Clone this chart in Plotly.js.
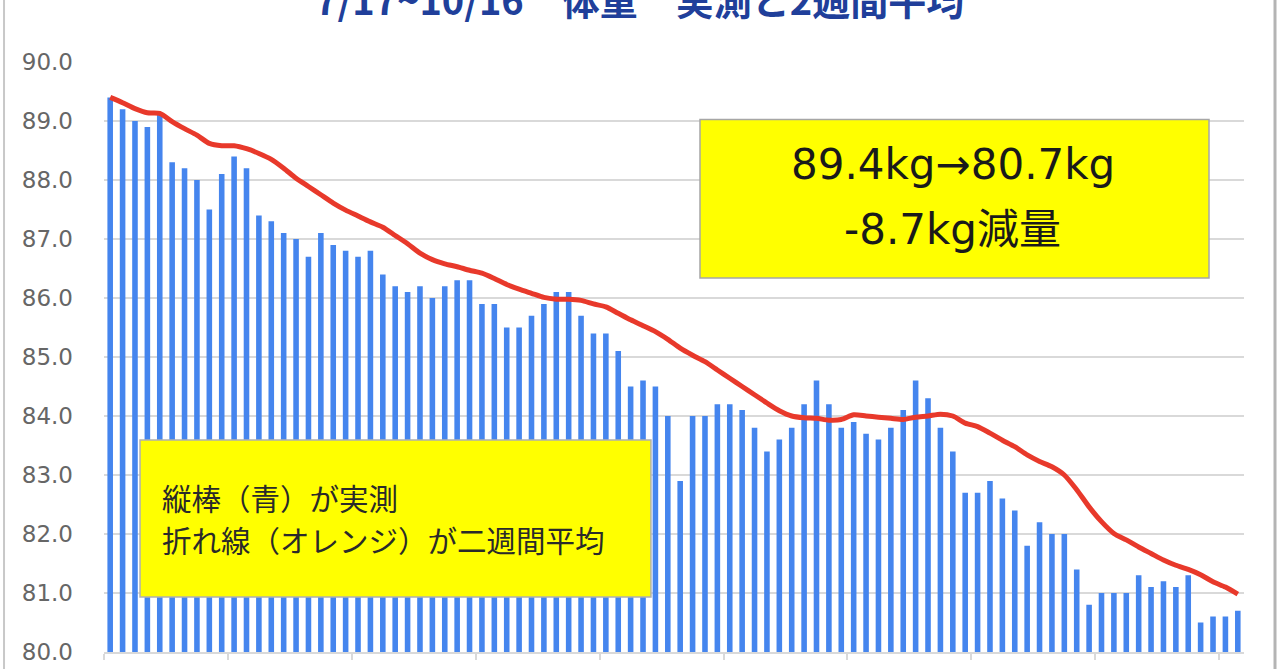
<!DOCTYPE html>
<html>
<head>
<meta charset="utf-8">
<script src="https://cdn.plot.ly/plotly-3.0.1.min.js"></script>
<style>html,body{margin:0;padding:0;background:#fff;}#chart{width:1280px;height:669px;}</style>
</head>
<body>
<div id="chart"></div>
<script>
const titleText = '7/17~10/16　体重　実測と2週間平均';
const days = [
 '7/17','7/18','7/19','7/20','7/21','7/22','7/23','7/24','7/25','7/26','7/27','7/28','7/29','7/30','7/31',
 '8/1','8/2','8/3','8/4','8/5','8/6','8/7','8/8','8/9','8/10','8/11','8/12','8/13','8/14','8/15','8/16',
 '8/17','8/18','8/19','8/20','8/21','8/22','8/23','8/24','8/25','8/26','8/27','8/28','8/29','8/30','8/31',
 '9/1','9/2','9/3','9/4','9/5','9/6','9/7','9/8','9/9','9/10','9/11','9/12','9/13','9/14','9/15',
 '9/16','9/17','9/18','9/19','9/20','9/21','9/22','9/23','9/24','9/25','9/26','9/27','9/28','9/29','9/30',
 '10/1','10/2','10/3','10/4','10/5','10/6','10/7','10/8','10/9','10/10','10/11','10/12','10/13','10/14','10/15','10/16'
];
const measured = [
 89.4,89.2,89.0,88.9,89.1,88.3,88.2,88.0,87.5,88.1,
 88.4,88.2,87.4,87.3,87.1,87.0,86.7,87.1,86.9,86.8,
 86.7,86.8,86.4,86.2,86.1,86.2,86.0,86.2,86.3,86.3,
 85.9,85.9,85.5,85.5,85.7,85.9,86.1,86.1,85.7,85.4,
 85.4,85.1,84.5,84.6,84.5,84.0,82.9,84.0,84.0,84.2,
 84.2,84.1,83.8,83.4,83.6,83.8,84.2,84.6,84.2,83.8,
 83.9,83.7,83.6,83.8,84.1,84.6,84.3,83.8,83.4,82.7,
 82.7,82.9,82.6,82.4,81.8,82.2,82.0,82.0,81.4,80.8,
 81.0,81.0,81.0,81.3,81.1,81.2,81.1,81.3,80.5,80.6,
 80.6,80.7
];
const twoWeekAvg = [
 89.40,89.31,89.21,89.14,89.13,88.99,88.87,88.76,88.62,88.58,
 88.58,88.53,88.45,88.35,88.20,88.03,87.89,87.75,87.61,87.49,
 87.39,87.29,87.20,87.06,86.92,86.76,86.65,86.58,86.53,86.47,
 86.42,86.33,86.23,86.15,86.08,86.01,85.98,85.98,85.96,85.90,
 85.85,85.74,85.63,85.53,85.43,85.30,85.15,85.03,84.92,84.78,
 84.64,84.50,84.36,84.22,84.09,84.00,83.97,83.96,83.93,83.94,
 84.02,84.00,83.98,83.96,83.94,83.98,84.00,84.03,84.00,83.88,
 83.82,83.71,83.59,83.48,83.34,83.23,83.14,83.00,82.75,82.46,
 82.21,82.01,81.90,81.78,81.67,81.56,81.47,81.40,81.31,81.19,
 81.10,80.98
];
const yTicks = [80,81,82,83,84,85,86,87,88,89,90];
const yTickLabels = ['80.0','81.0','82.0','83.0','84.0','85.0','86.0','87.0','88.0','89.0','90.0'];
const summaryLines = ['89.4kg→80.7kg','-8.7kg減量'];
const noteLines = ['縦棒（青）が実測','折れ線（オレンジ）が二週間平均'];

const xTickVals = [];
for (let i = 0; i <= days.length; i += 10) xTickVals.push(i - 0.5);

const traces = [
 {type:'bar', x:days, y:measured, marker:{color:'#4585ee'}, name:'実測', hoverinfo:'x+y'},
 {type:'scatter', mode:'lines', x:days, y:twoWeekAvg, name:'2週間平均',
  line:{color:'#e8392b', width:5, shape:'spline', smoothing:0.7}}
];

const latin = 'DejaVu Sans, Noto Sans CJK JP, sans-serif';
const cjk = 'Noto Sans CJK JP, sans-serif';

const layout = {
 width:1280, height:669,
 margin:{l:104, r:36, t:62, b:17, pad:0},
 paper_bgcolor:'#ffffff', plot_bgcolor:'#ffffff',
 showlegend:false, bargap:0.55,
 xaxis:{type:'category', categoryorder:'array', categoryarray:days, range:[-0.5, days.length-0.5],
  showgrid:false, zeroline:false, showline:true, linecolor:'#d9d9d9', linewidth:2,
  ticks:'outside', ticklen:6, tickwidth:2, tickcolor:'#d9d9d9',
  tickmode:'array', tickvals:xTickVals, ticktext:xTickVals.map(()=>''), showticklabels:false, fixedrange:true},
 yaxis:{range:[80,90], tickmode:'array', tickvals:yTicks, ticktext:yTickLabels,
  showgrid:true, gridcolor:'#d9d9d9', gridwidth:2, zeroline:false, showline:false,
  ticks:'', ticklabelstandoff:30, tickfont:{family:latin, size:23, color:'#666666'}, fixedrange:true},
 shapes:[
  {type:'rect', xref:'paper', yref:'paper', x0:0.5228, x1:0.9693, y0:0.6339, y1:0.9024,
   fillcolor:'#ffff00', line:{color:'#a6a6a6', width:1.5}, layer:'above'},
  {type:'rect', xref:'paper', yref:'paper', x0:0.0316, x1:0.4798, y0:0.0932, y1:0.3593,
   fillcolor:'#ffff00', line:{color:'#b0b0b0', width:1.5}, layer:'above'},
  {type:'line', xref:'paper', yref:'paper', x0:-0.0877, x1:-0.0877, y0:-0.05, y1:1.12,
   line:{color:'#c8c8c8', width:2}},
  {type:'line', xref:'paper', yref:'paper', x0:1.0272, x1:1.0272, y0:-0.05, y1:1.12,
   line:{color:'#b4b4b4', width:3}}
 ],
 annotations:[
  {text:titleText, xref:'paper', yref:'paper', x:0.470, y:1.107, xanchor:'center', yanchor:'middle',
   showarrow:false, font:{family:cjk, size:38, color:'#203f9a', weight:700}},
  {text:summaryLines[0], xref:'paper', yref:'paper', x:0.7447, y:0.826, xanchor:'center', yanchor:'middle',
   showarrow:false, font:{family:latin, size:42, color:'#1a1a1a'}},
  {text:summaryLines[1], xref:'paper', yref:'paper', x:0.7447, y:0.7153, xanchor:'center', yanchor:'middle',
   showarrow:false, font:{family:latin, size:42, color:'#1a1a1a'}},
  {text:noteLines[0], xref:'paper', yref:'paper', x:0.049, y:0.2627, xanchor:'left', yanchor:'middle',
   showarrow:false, font:{family:cjk, size:29.5, color:'#2a2a2a'}},
  {text:noteLines[1], xref:'paper', yref:'paper', x:0.049, y:0.1907, xanchor:'left', yanchor:'middle',
   showarrow:false, font:{family:cjk, size:29.5, color:'#2a2a2a'}}
 ]
};

Plotly.newPlot('chart', traces, layout, {displayModeBar:false, staticPlot:true});
</script>
</body>
</html>
